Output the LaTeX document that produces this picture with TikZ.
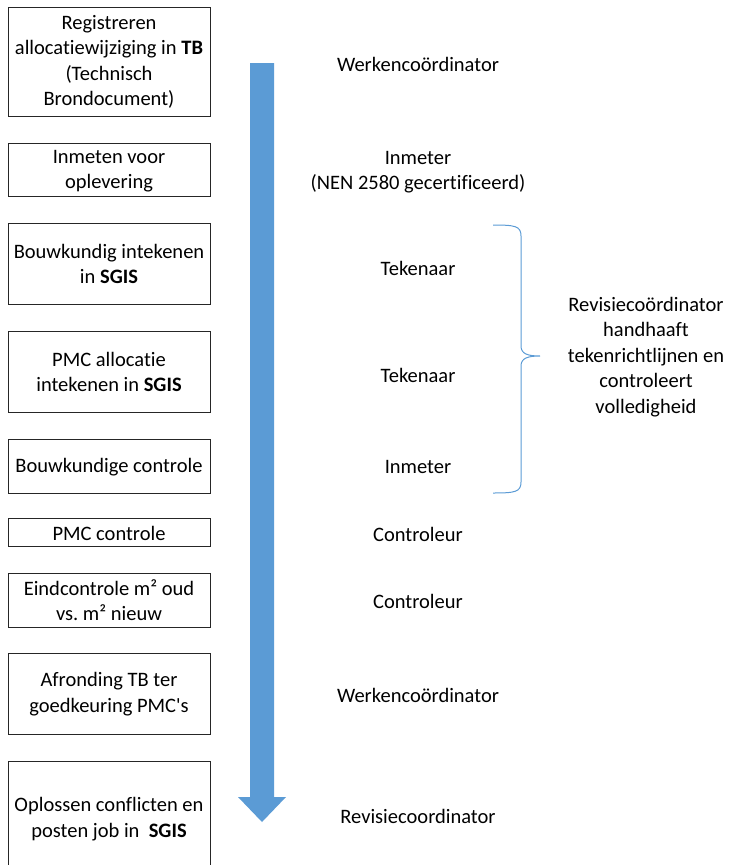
\documentclass[tikz,border=0pt]{standalone}
\usepackage{fontspec}
\setmainfont[Ligatures=NoCommon]{Carlito}
\frenchspacing
\begin{document}
\begin{tikzpicture}[x=1pt,y=-1pt,
  txt/.style={font=\fontsize{20.5}{25.5}\selectfont,align=center,inner sep=0pt},
  boxline/.style={draw=black!85,line width=0.9pt},
  flow/.style={fill=arrowblue,draw=none},
  bracestyle/.style={draw=arrowblue,line width=1pt}]
\definecolor{arrowblue}{HTML}{5B9BD5}
\useasboundingbox (0,0) rectangle (740,865);

% step boxes
\draw[boxline] (8,7) rectangle (210,116);
\draw[boxline] (8,143) rectangle (210,196);
\draw[boxline] (8,223) rectangle (210,304);
\draw[boxline] (8,331) rectangle (210,412);
\draw[boxline] (8,439) rectangle (210,493);
\draw[boxline] (8,518) rectangle (210,546);
\draw[boxline] (8,573) rectangle (210,627);
\draw[boxline] (8,653) rectangle (210,734);
\draw[boxline] (8,865) -- (8,761) -- (210,761) -- (210,865);

\node[txt] (s1) at (109,62) {Registreren\\allocatiewijziging in \textbf{TB}\\(Technisch\\Brondocument)};
\node[txt] (s2) at (109,171) {Inmeten voor\\oplevering};
\node[txt] (s3) at (109,264) {Bouwkundig intekenen\\in \textbf{SGIS}};
\node[txt] (s4) at (109,372) {PMC allocatie\\intekenen in \textbf{SGIS}};
\node[txt] (s5) at (109,467) {Bouwkundige controle};
\node[txt] (s6) at (109,533) {PMC controle};
\node[txt] (s7) at (109,600) {Eindcontrole m² oud\\vs. m² nieuw};
\node[txt] (s8) at (109,694) {Afronding TB ter\\goedkeuring PMC\textquotesingle s};
\node[txt] (s9) at (109,819) {Oplossen conflicten en\\posten job in\ \ \textbf{SGIS}};

% process arrow
\fill[flow] (250,63) -- (274,63) -- (274,797) -- (286,797) -- (262,822)
  -- (238,797) -- (250,797) -- cycle;

% roles
\node[txt] (r1) at (418,64) {Werkencoördinator};
\node[txt] (r2) at (418,172) {Inmeter\\(NEN 2580 gecertificeerd)};
\node[txt] (r3) at (418,268) {Tekenaar};
\node[txt] (r4) at (418,375) {Tekenaar};
\node[txt] (r5) at (418,467) {Inmeter};
\node[txt] (r6) at (418,534) {Controleur};
\node[txt] (r7) at (418,601) {Controleur};
\node[txt] (r8) at (418,695) {Werkencoördinator};
\node[txt] (r9) at (418,816) {Revisiecoordinator};

% brace over the drawing steps
\draw[bracestyle] (493,225) .. controls (515,225) and (521,226) .. (521,236)
  -- (521,346) .. controls (521,354) and (528,356) .. (540,356)
  .. controls (528,356) and (521,358) .. (521,366)
  -- (521,482) .. controls (521,492) and (515,493) .. (493,493);
\coordinate (bt) at (540,356);

\node[txt] (rev) at (646,357) {Revisiecoördinator\\handhaaft\\tekenrichtlijnen en\\controleert\\volledigheid};
\end{tikzpicture}
\end{document}
